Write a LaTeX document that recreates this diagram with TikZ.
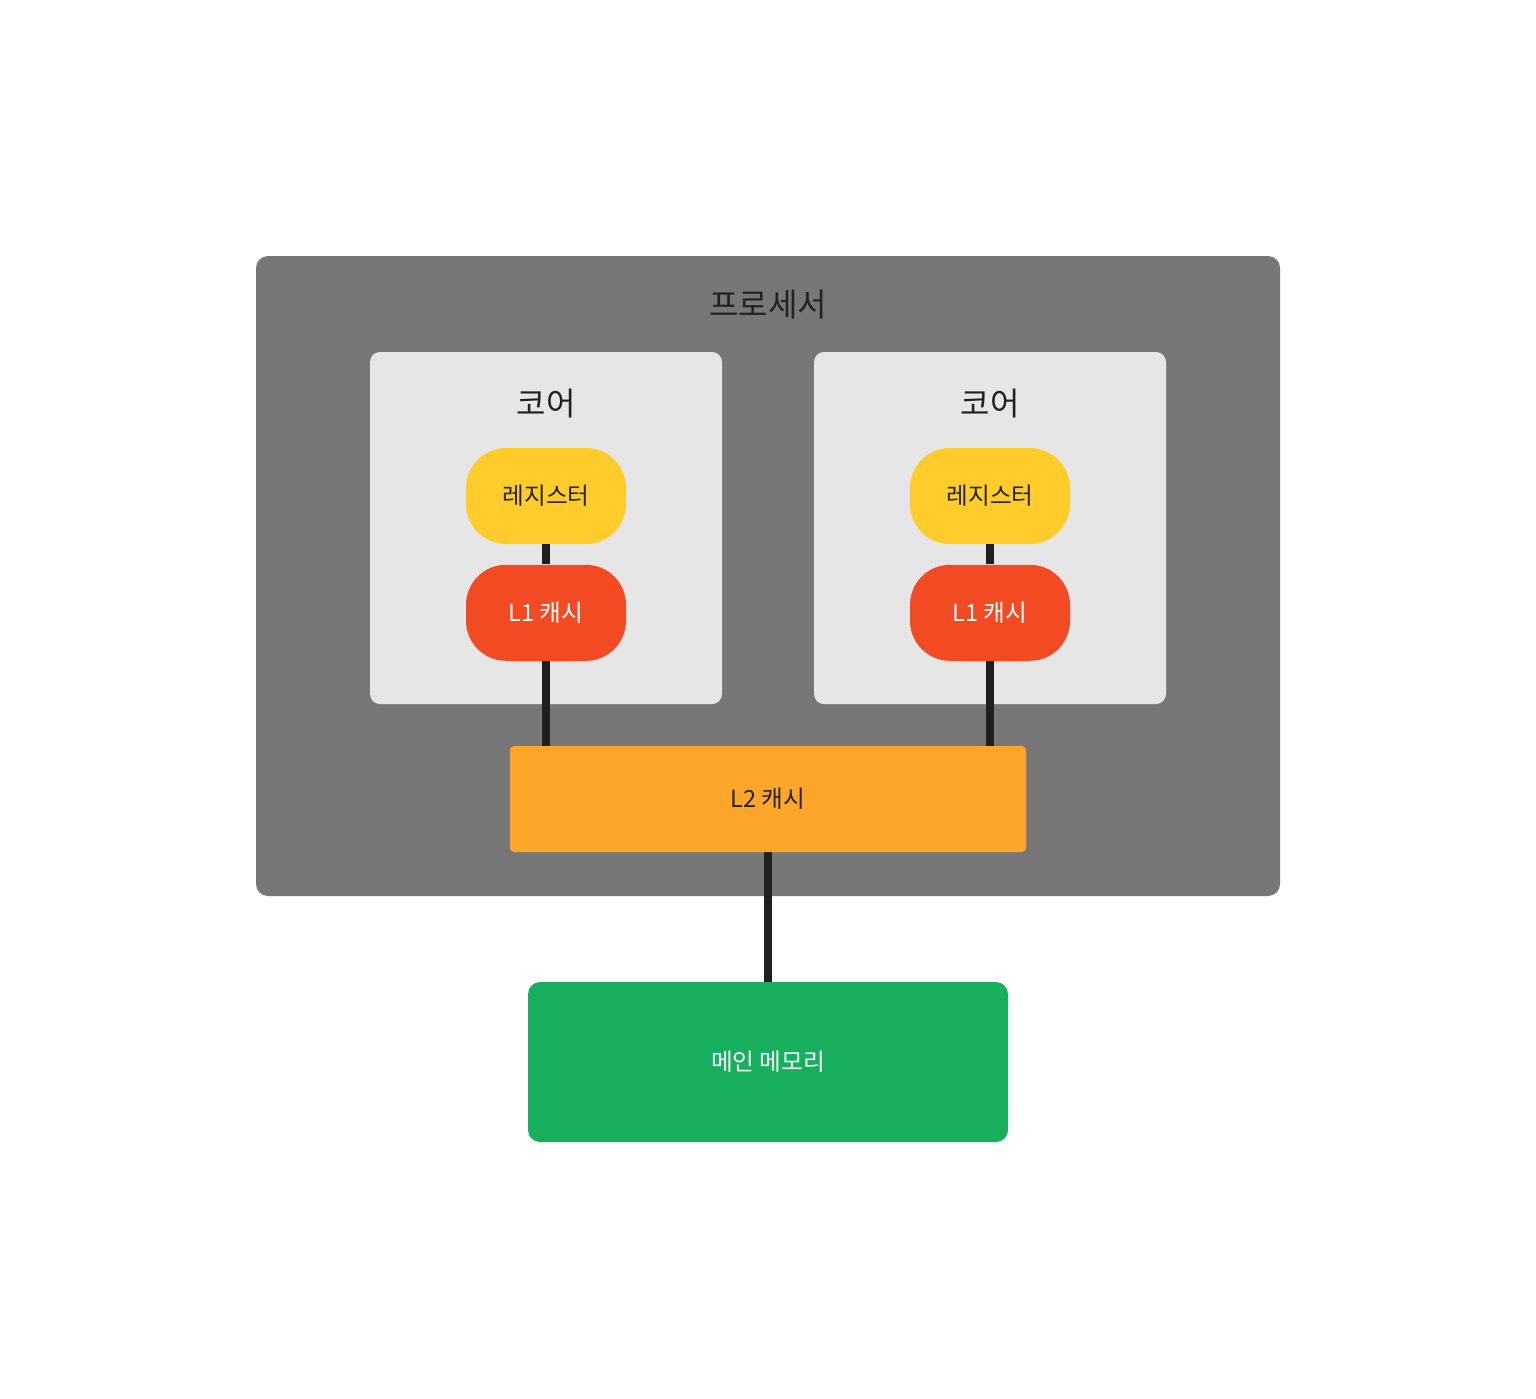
\documentclass[tikz,border=0pt]{standalone}
\usepackage{fontspec}
\setmainfont{Noto Sans CJK KR}
\usepackage{xcolor}
\usetikzlibrary{positioning, calc}

\definecolor{chipgray}{HTML}{777777}
\definecolor{coregray}{HTML}{E6E6E6}
\definecolor{regyellow}{HTML}{FFCC2C}
\definecolor{lonered}{HTML}{F24A23}
\definecolor{ltwoorange}{HTML}{FEA62A}
\definecolor{memgreen}{HTML}{17AF5E}
\definecolor{wireblack}{HTML}{1F1F1F}
\definecolor{textdark}{HTML}{222222}

\begin{document}
\begin{tikzpicture}[x=0.5pt, y=-0.5pt,
    every node/.style={inner sep=0pt, align=center, font=\fontsize{11.8pt}{14pt}\selectfont},
    chip/.style={fill=chipgray, rounded corners=6pt, minimum width=512pt, minimum height=320pt},
    core/.style={fill=coregray, rounded corners=5pt, minimum width=176pt, minimum height=176pt},
    title/.style={text=textdark, font=\fontsize{16pt}{19pt}\selectfont},
    reg/.style={fill=regyellow, text=textdark, rounded corners=20pt, minimum width=80pt, minimum height=48pt},
    lone/.style={fill=lonered, text=white, rounded corners=20pt, minimum width=80pt, minimum height=48pt},
    ltwo/.style={fill=ltwoorange, text=textdark, rounded corners=2pt, minimum width=258pt, minimum height=53pt},
    mem/.style={fill=memgreen, text=white, rounded corners=6pt, minimum width=240pt, minimum height=80pt},
    wire/.style={draw=wireblack, line width=4pt}
]
\useasboundingbox[fill=white] (0,0) rectangle (1536,1398);

% processor and cores
\node[chip] (proc) at (768,576) {};
\node[title] (procT) at (768,305) {프로세서};
\node[core] (coreL) at (546,528) {};
\node[core] (coreR) at (990,528) {};
\node[title] (coreLT) at (546,404) {코어};
\node[title] (coreRT) at (990,404) {코어};

% registers and L1
\node[reg] (regL) at (546,496) {레지스터};
\node[lone, below=10pt of regL] (loneL) {L1 캐시};
\node[reg] (regR) at (990,496) {레지스터};
\node[lone, below=10pt of regR] (loneR) {L1 캐시};

% L2 and memory
\node[ltwo] (ltwo) at (768,799) {L2 캐시};
\node[mem] (mem) at (768,1062) {메인 메모리};

% wires
\draw[wire] (regL.south) -- (loneL.north);
\draw[wire] (regR.south) -- (loneR.north);
\draw[wire] (loneL.south) -- (loneL.south |- ltwo.north);
\draw[wire] (loneR.south) -- (loneR.south |- ltwo.north);
\draw[wire] (ltwo.south) -- (mem.north);

\end{tikzpicture}
\end{document}
